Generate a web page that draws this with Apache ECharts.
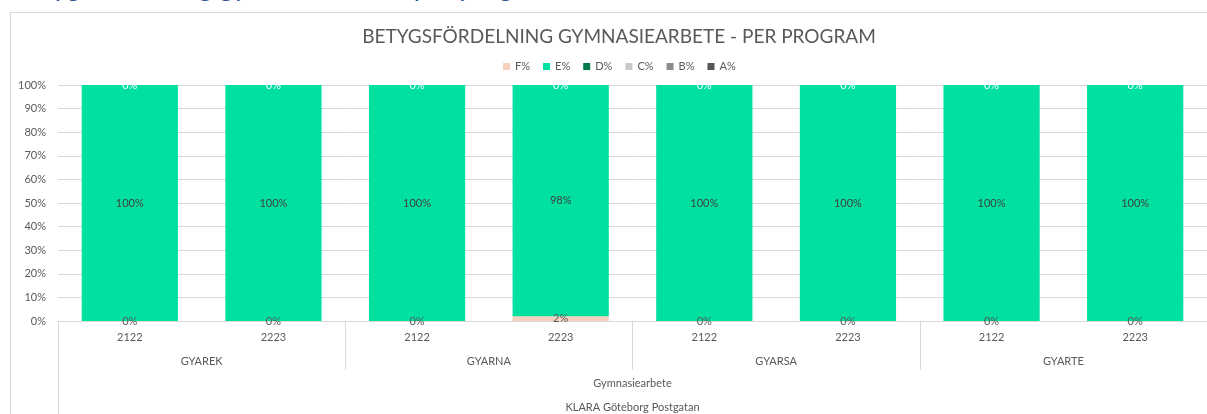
<!DOCTYPE html>
<html>
<head>
<meta charset="utf-8">
<title>Betygsfördelning gymnasiearbete</title>
<script src="https://cdn.jsdelivr.net/npm/echarts@6/dist/echarts.min.js"></script>
<style>
  html, body { margin: 0; padding: 0; background: #fff; overflow: hidden; }
  .page-title {
    position: absolute; left: 12px; top: -31px;
    font-family: Lato, sans-serif; font-size: 27px; color: #2f5597;
    white-space: nowrap;
  }
  .chart-frame {
    position: absolute; left: 10px; top: 12px; width: 1210px; height: 420px;
    border: 1px solid #d9d9d9;
  }
  #chart { position: absolute; left: 0; top: 0; width: 1207px; height: 414px; }
</style>
</head>
<body>
<div class="page-title">Betygsfördelning gymnasiearbete per program</div>
<div class="chart-frame"></div>
<div id="chart"></div>
<script>
// data
const years = ['2122', '2223', '2122', '2223', '2122', '2223', '2122', '2223']
const programs = ['GYAREK', 'GYARNA', 'GYARSA', 'GYARTE']
const course = ['Gymnasiearbete']
const school = ['KLARA Göteborg Postgatan']
const gradeNames = ['F%', 'E%', 'D%', 'C%', 'B%', 'A%']
const gradeF = [0, 0, 0, 2, 0, 0, 0, 0]
const gradeE = [100, 100, 100, 98, 100, 100, 100, 100]
const gradeD = [0, 0, 0, 0, 0, 0, 0, 0]
const gradeC = [0, 0, 0, 0, 0, 0, 0, 0]
const gradeB = [0, 0, 0, 0, 0, 0, 0, 0]
const gradeA = [0, 0, 0, 0, 0, 0, 0, 0]

const colors = ['#f8d0c0', '#00e0a1', '#00794c', '#c9c9c9', '#8c8c8c', '#555555']
const labelColors = ['#595959', '#404040', '#ffffff', '#ffffff', '#ffffff', '#ffffff']
// only one label is visible where the empty segments pile up at the top
const showLabel = [true, true, true, false, false, false]
const FONT = 'Lato, sans-serif'
const lineColor = '#d9d9d9'

const myChart = echarts.init(document.getElementById('chart'))

const makeSeries = (name, data, i) => ({
  name: name,
  type: 'bar',
  stack: 'total',
  xAxisIndex: 0,
  data: data,
  barCategoryGap: '33%',
  itemStyle: { color: colors[i] },
  label: {
    show: showLabel[i],
    position: 'inside',
    formatter: (p) => p.value + '%',
    color: labelColors[i],
    fontFamily: FONT,
    fontSize: 11
  }
})

const extraAxis = (data, margin, tickLen) => ({
  type: 'category',
  data: data,
  position: 'bottom',
  gridIndex: 0,
  axisLine: { show: false },
  axisTick: { show: true, length: tickLen, lineStyle: { color: lineColor } },
  axisLabel: { margin: margin, color: '#595959', fontFamily: FONT, fontSize: 11, interval: 0 },
  splitLine: { show: false }
})

const option = {
  animation: false,
  title: {
    text: 'BETYGSFÖRDELNING GYMNASIEARBETE - PER PROGRAM',
    left: 614,
    textAlign: 'center',
    top: 22,
    textStyle: { fontFamily: FONT, fontSize: 19, fontWeight: 'normal', color: '#595959' }
  },
  legend: {
    data: gradeNames,
    left: 498,
    top: 56,
    itemWidth: 7,
    itemHeight: 7,
    itemGap: 13,
    icon: 'rect',
    textStyle: { fontFamily: FONT, fontSize: 11, color: '#595959' }
  },
  grid: { left: 58, right: 0, top: 85, bottom: 93, containLabel: false },
  xAxis: [
    {
      type: 'category',
      data: years,
      axisLine: { show: true, lineStyle: { color: lineColor } },
      axisTick: { show: false },
      axisLabel: { margin: 11, color: '#595959', fontFamily: FONT, fontSize: 11, interval: 0 }
    },
    extraAxis(programs, 35, 49),
    extraAxis(course, 57, 49),
    extraAxis(school, 81, 100)
  ],
  yAxis: {
    type: 'value',
    min: 0,
    max: 100,
    interval: 10,
    axisLine: { show: false },
    axisTick: { show: false },
    splitLine: { lineStyle: { color: lineColor } },
    axisLabel: {
      margin: 12,
      color: '#595959',
      fontFamily: FONT,
      fontSize: 11,
      formatter: (v) => v + '%'
    }
  },
  series: gradeNames.map((name, i) =>
    makeSeries(name, [gradeF, gradeE, gradeD, gradeC, gradeB, gradeA][i], i))
}

myChart.setOption(option)
</script>
</body>
</html>
